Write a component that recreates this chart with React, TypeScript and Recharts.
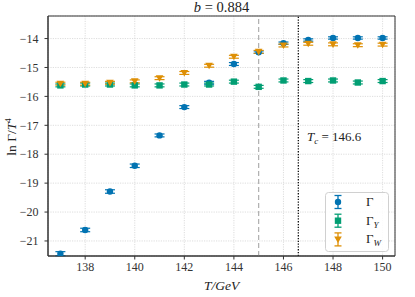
import {
  ScatterChart,
  Scatter,
  XAxis,
  YAxis,
  CartesianGrid,
  ErrorBar,
  ReferenceLine,
  ReferenceArea,
  Legend,
} from "recharts";

const temps = [137, 138, 139, 140, 141, 142, 143, 144, 145, 146, 147, 148, 149, 150];
const gamma = [-21.44, -20.62, -19.29, -18.4, -17.35, -16.37, -15.53, -14.88, -14.47, -14.16, -14.05, -13.98, -13.98, -13.98];
const gammaErr = [0.07, 0.06, 0.06, 0.06, 0.05, 0.05, 0.05, 0.05, 0.04, 0.04, 0.04, 0.04, 0.04, 0.04];
const gammaY = [-15.62, -15.59, -15.59, -15.62, -15.62, -15.59, -15.59, -15.49, -15.67, -15.45, -15.47, -15.45, -15.52, -15.47];
const gammaYErr = [0.05, 0.05, 0.05, 0.05, 0.05, 0.05, 0.05, 0.05, 0.05, 0.05, 0.05, 0.05, 0.05, 0.05];
const gammaW = [-15.56, -15.56, -15.53, -15.48, -15.37, -15.19, -14.94, -14.63, -14.46, -14.24, -14.18, -14.2, -14.23, -14.21];
const gammaWErr = [0.05, 0.05, 0.05, 0.05, 0.05, 0.05, 0.05, 0.05, 0.05, 0.05, 0.05, 0.05, 0.05, 0.05];
const xTicks = [138, 140, 142, 144, 146, 148, 150];
const yTicks = [-21, -20, -19, -18, -17, -16, -15, -14];
const tc = 146.6;

const BLUE = "#0173b2";
const GREEN = "#029e73";
const ORANGE = "#de8f05";
const FONT = "Liberation Serif";

const rows = (vals: number[], errs: number[]) =>
  temps.map((t, i) => ({ T: t, v: vals[i], e: errs[i] }));

const Circle = (p: any) => <circle cx={p.cx} cy={p.cy} r={3.2} fill={BLUE} />;
const Square = (p: any) => (
  <rect x={p.cx - 3.2} y={p.cy - 3.2} width={6.4} height={6.4} fill={GREEN} />
);
const TriDown = (p: any) => (
  <path
    d={`M${p.cx - 3.8},${p.cy - 3} L${p.cx + 3.8},${p.cy - 3} L${p.cx},${p.cy + 3.6} Z`}
    fill={ORANGE}
  />
);

const minus = (v: number) => String(v).replace("-", "\u2212");

const legendRows = [
  { color: BLUE, name: "Γ", sub: "", mark: "circle" },
  { color: GREEN, name: "Γ", sub: "Y", mark: "square" },
  { color: ORANGE, name: "Γ", sub: "W", mark: "tri" },
];

function LegendBox() {
  return (
    <svg width={64} height={60} style={{ display: "block" }}>
      <rect x={0.5} y={0.5} width={63} height={59} rx={3} fill="#fff" fillOpacity={0.85} stroke="#d0d0d0" />
      {legendRows.map((r, i) => {
        const cy = 10 + i * 18.7;
        const cx = 13;
        return (
          <g key={i}>
            <line x1={cx} x2={cx} y1={cy - 6.5} y2={cy + 6.5} stroke={r.color} strokeWidth={1.3} />
            <line x1={cx - 3.5} x2={cx + 3.5} y1={cy - 6.5} y2={cy - 6.5} stroke={r.color} strokeWidth={1.3} />
            <line x1={cx - 3.5} x2={cx + 3.5} y1={cy + 6.5} y2={cy + 6.5} stroke={r.color} strokeWidth={1.3} />
            {r.mark === "circle" && <circle cx={cx} cy={cy} r={3.2} fill={r.color} />}
            {r.mark === "square" && <rect x={cx - 3.2} y={cy - 3.2} width={6.4} height={6.4} fill={r.color} />}
            {r.mark === "tri" && (
              <path d={`M${cx - 3.8},${cy - 3} L${cx + 3.8},${cy - 3} L${cx},${cy + 3.6} Z`} fill={r.color} />
            )}
            <text x={41} y={cy + 4} fontFamily={FONT} fontSize={13} fill="#222">
              {r.name}
              {r.sub && (
                <tspan fontSize={9} fontStyle="italic" dy={3}>
                  {r.sub}
                </tspan>
              )}
            </text>
          </g>
        );
      })}
    </svg>
  );
}

export default function App() {
  return (
    <div style={{ position: "absolute", left: 0, top: 0, background: "#fff", fontFamily: FONT }}>
      <ScatterChart
        width={415}
        height={297}
        margin={{ top: 16, right: 20, bottom: 0, left: 0 }}
        style={{ fontFamily: FONT }}
      >
        <CartesianGrid stroke="#d4d4d4" strokeDasharray="1.2 1.2" strokeWidth={0.8} />
        <XAxis
          type="number"
          dataKey="T"
          domain={[136.5, 150.5]}
          ticks={xTicks}
          height={41}
          tickSize={3.5}
          tickMargin={3}
          axisLine={{ stroke: "#333" }}
          tickLine={{ stroke: "#333" }}
          tick={{ fill: "#333", fontSize: 12, fontFamily: FONT }}
          allowDataOverflow
        />
        <YAxis
          type="number"
          dataKey="v"
          domain={[-21.52, -13.22]}
          ticks={yTicks}
          width={48}
          tickSize={3.5}
          tickMargin={6}
          tickFormatter={minus}
          axisLine={{ stroke: "#333" }}
          tickLine={{ stroke: "#333" }}
          tick={{ fill: "#333", fontSize: 12, fontFamily: FONT }}
          allowDataOverflow
        />
        <ReferenceArea
          x1={136.5}
          x2={150.5}
          y1={-21.52}
          y2={-13.22}
          fill="none"
          stroke="#333"
          strokeWidth={1}
          ifOverflow="visible"
        />
        <ReferenceLine x={145} stroke="#a8a8a8" strokeDasharray="5 3" strokeWidth={1.1} />
        <ReferenceLine x={tc} stroke="#111" strokeDasharray="1.3 1.5" strokeWidth={1.3} />
        <Scatter data={rows(gamma, gammaErr)} shape={Circle} isAnimationActive={false}>
          <ErrorBar dataKey="e" direction="y" width={5} stroke={BLUE} strokeWidth={1.2} />
        </Scatter>
        <Scatter data={rows(gammaY, gammaYErr)} shape={Square} isAnimationActive={false}>
          <ErrorBar dataKey="e" direction="y" width={5} stroke={GREEN} strokeWidth={1.2} />
        </Scatter>
        <Scatter data={rows(gammaW, gammaWErr)} shape={TriDown} isAnimationActive={false}>
          <ErrorBar dataKey="e" direction="y" width={5} stroke={ORANGE} strokeWidth={1.2} />
        </Scatter>
        <Legend
          layout="vertical"
          align="center"
          verticalAlign="middle"
          content={() => <LegendBox />}
          wrapperStyle={{ left: 325, top: 192, width: 64, height: 60 }}
        />
        <text x={221.5} y={12} textAnchor="middle" fontFamily={FONT} fontSize={14.5} fill="#222">
          <tspan fontStyle="italic">b</tspan> = 0.884
        </text>
        <text x={221.5} y={290} textAnchor="middle" fontFamily={FONT} fontSize={13.5} fill="#222" fontStyle="italic">
          T/GeV
        </text>
        <text
          transform="translate(16,137) rotate(-90)"
          textAnchor="middle"
          fontFamily={FONT}
          fontSize={13.5}
          fill="#222"
        >
          ln Γ/<tspan fontStyle="italic">T</tspan>
          <tspan fontSize={9} dy={-5}>4</tspan>
        </text>
        <text x={307} y={141} fontFamily={FONT} fontSize={13} fill="#222">
          <tspan fontStyle="italic">T</tspan>
          <tspan fontSize={9} fontStyle="italic" dy={3}>c</tspan>
          <tspan dy={-3}> = 146.6</tspan>
        </text>
      </ScatterChart>
    </div>
  );
}
